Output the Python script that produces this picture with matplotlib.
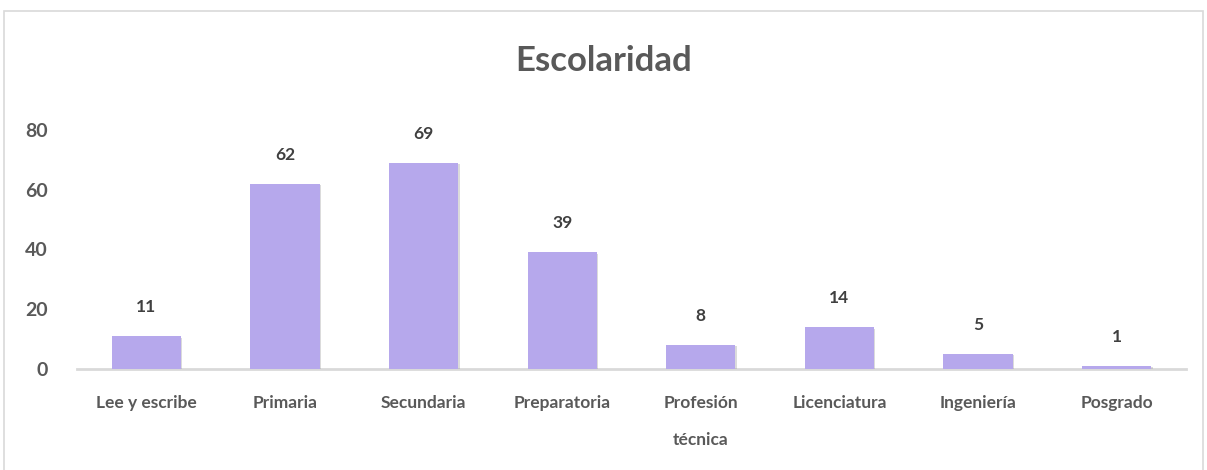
import matplotlib.pyplot as plt
import matplotlib.patheffects as pe
from matplotlib.patches import Rectangle

categories = ['Lee y escribe', 'Primaria', 'Secundaria', 'Preparatoria',
              'Profesión\ntécnica', 'Licenciatura', 'Ingeniería', 'Posgrado']
values = [11, 62, 69, 39, 8, 14, 5, 1]
yticks = [0, 20, 40, 60, 80]

BAR = '#B6A8EC'
GRAY = '#595959'
DARK = '#404040'

plt.rcParams['font.family'] = ['Lato', 'DejaVu Sans']

fig = plt.figure(figsize=(12.07, 4.70), dpi=100)
ax = fig.add_axes([77 / 1207, 101 / 470, 1109 / 1207, 239 / 470])

# chart frame, open at the bottom edge like the source
fig.patches.append(Rectangle((4 / 1207, -0.02), 1199 / 1207, 0.02 + 459 / 470,
                             transform=fig.transFigure, fill=False,
                             edgecolor='#d9d9d9', linewidth=1.2))

x = range(len(categories))
bars = ax.bar(x, values, width=0.5, color=BAR, zorder=2)
for b in bars:
    b.set_path_effects([pe.SimplePatchShadow(offset=(1, -1), shadow_rgbFace='#999999', alpha=0.35),
                        pe.Normal()])

for xi, v in zip(x, values):
    ax.annotate(str(v), (xi, v), xytext=(0, 21), textcoords='offset points',
                ha='center', va='center', fontsize=12.5, fontweight='bold', color=DARK)

ax.set_xlim(-0.5, len(categories) - 0.5)
ax.set_ylim(0, 80)
ax.set_yticks(yticks)
ax.set_xticks(list(x))
ax.set_xticklabels(categories, linespacing=2.6, va='top')
ax.tick_params(axis='y', length=0, pad=21, labelsize=14, labelcolor=GRAY)
ax.tick_params(axis='x', length=0, pad=19, labelsize=12.5, labelcolor=GRAY)
for lbl in ax.get_yticklabels() + ax.get_xticklabels():
    lbl.set_fontweight('bold')

for side in ['top', 'right', 'left']:
    ax.spines[side].set_visible(False)
ax.spines['bottom'].set_color('#d9d9d9')
ax.spines['bottom'].set_linewidth(2)
ax.spines['bottom'].set_zorder(1)

fig.text(0.5, 409 / 470, 'Escolaridad', ha='center', va='center',
         fontsize=25, fontweight='bold', color=GRAY)

fig.savefig('out.png', dpi=100, facecolor='white')
